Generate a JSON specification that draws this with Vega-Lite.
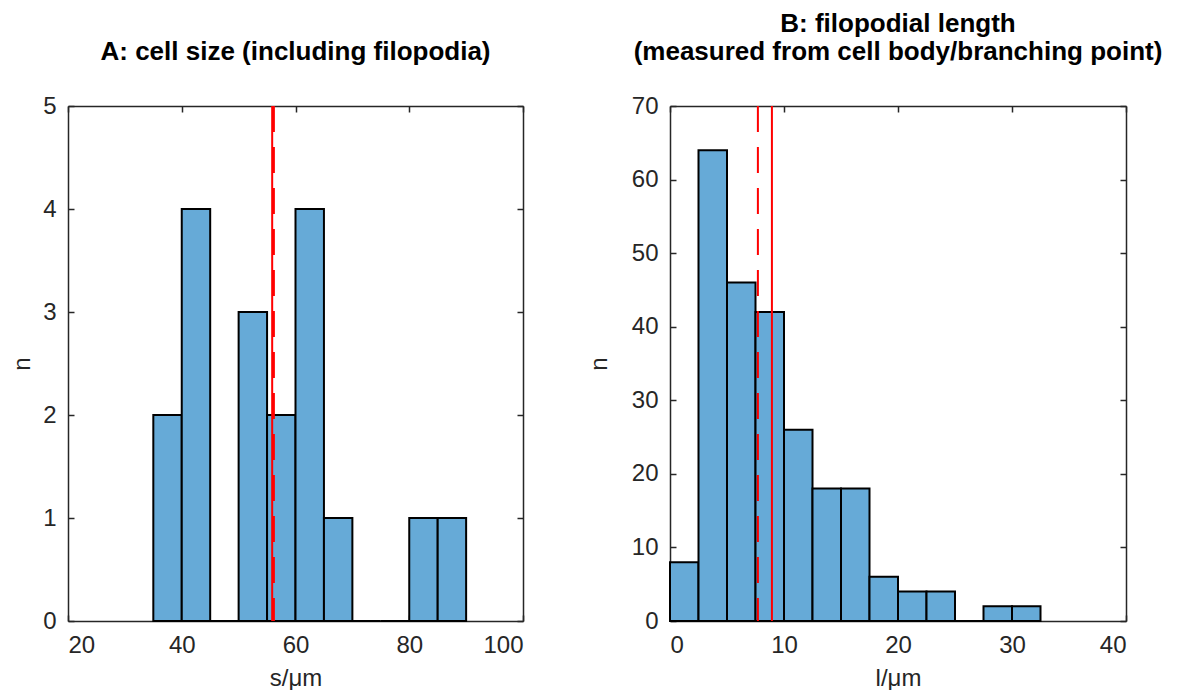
{
  "$schema": "https://vega.github.io/schema/vega-lite/v6.json",
  "background": "white",
  "padding": {"left": 10, "top": 11, "right": 5, "bottom": 0},
  "spacing": 63,
  "datasets": {
    "histA": [
      {"lo": 35, "hi": 40, "n": 2},
      {"lo": 40, "hi": 45, "n": 4},
      {"lo": 45, "hi": 50, "n": 0},
      {"lo": 50, "hi": 55, "n": 3},
      {"lo": 55, "hi": 60, "n": 2},
      {"lo": 60, "hi": 65, "n": 4},
      {"lo": 65, "hi": 70, "n": 1},
      {"lo": 70, "hi": 75, "n": 0},
      {"lo": 75, "hi": 80, "n": 0},
      {"lo": 80, "hi": 85, "n": 1},
      {"lo": 85, "hi": 90, "n": 1}
    ],
    "statsA": [
      {"stat": "mean", "v": 55.9},
      {"stat": "median", "v": 56.2}
    ],
    "histB": [
      {"lo": 0, "hi": 2.5, "n": 8},
      {"lo": 2.5, "hi": 5, "n": 64},
      {"lo": 5, "hi": 7.5, "n": 46},
      {"lo": 7.5, "hi": 10, "n": 42},
      {"lo": 10, "hi": 12.5, "n": 26},
      {"lo": 12.5, "hi": 15, "n": 18},
      {"lo": 15, "hi": 17.5, "n": 18},
      {"lo": 17.5, "hi": 20, "n": 6},
      {"lo": 20, "hi": 22.5, "n": 4},
      {"lo": 22.5, "hi": 25, "n": 4},
      {"lo": 25, "hi": 27.5, "n": 0},
      {"lo": 27.5, "hi": 30, "n": 2},
      {"lo": 30, "hi": 32.5, "n": 2}
    ],
    "statsB": [
      {"stat": "mean", "v": 8.94},
      {"stat": "median", "v": 7.71}
    ]
  },
  "config": {
    "font": "Liberation Sans",
    "view": {"stroke": null},
    "axis": {
      "grid": false,
      "domainColor": "#262626",
      "domainWidth": 1.5,
      "tickColor": "#262626",
      "tickWidth": 1.5,
      "tickSize": -6,
      "labelFont": "Liberation Sans",
      "labelFontSize": 24,
      "labelColor": "#262626",
      "titleFont": "Liberation Sans",
      "titleFontSize": 24,
      "titleFontWeight": "normal",
      "titleColor": "#262626"
    },
    "title": {
      "font": "Liberation Sans",
      "fontSize": 26,
      "fontWeight": "bold",
      "color": "black",
      "anchor": "middle",
      "offset": 29,
      "lineHeight": 28
    }
  },
  "hconcat": [
    {
      "width": 455,
      "height": 515,
      "title": {"text": "A: cell size (including filopodia)"},
      "layer": [
        {
          "data": {"name": "histA"},
          "mark": {"type": "rect", "fill": "#66aad7", "stroke": "black", "strokeWidth": 2},
          "encoding": {
            "x": {"field": "lo", "type": "quantitative",
                  "scale": {"domain": [20, 100], "nice": false, "zero": false},
                  "axis": {"orient": "bottom", "values": [20, 40, 60, 80, 100], "title": "s/μm", "labelPadding": 18, "titleY": 45}},
            "x2": {"field": "hi"},
            "y": {"field": "n", "type": "quantitative",
                  "scale": {"domain": [0, 5], "nice": false},
                  "axis": {"orient": "left", "values": [0, 1, 2, 3, 4, 5], "title": "n", "labelPadding": 18, "titleX": -34}},
            "y2": {"datum": 0}
          }
        },
        {
          "data": {"name": "statsA"},
          "mark": {"type": "rule", "color": "red", "strokeWidth": 2},
          "encoding": {
            "x": {"field": "v", "type": "quantitative",
                  "axis": {"orient": "top", "values": [20, 40, 60, 80, 100], "labels": false, "title": null}},
            "strokeDash": {"field": "stat", "type": "nominal",
                           "scale": {"domain": ["mean", "median"], "range": [[1, 0], [26, 15]]},
                           "legend": null}
          }
        },
        {
          "data": {"name": "histA"},
          "mark": {"type": "tick", "opacity": 0},
          "encoding": {
            "y": {"field": "n", "type": "quantitative",
                  "axis": {"orient": "right", "values": [0, 1, 2, 3, 4, 5], "labels": false, "title": null}}
          }
        }
      ]
    },
    {
      "width": 456,
      "height": 515,
      "title": {"text": ["B: filopodial length", "(measured from cell body/branching point)"]},
      "layer": [
        {
          "data": {"name": "histB"},
          "mark": {"type": "rect", "fill": "#66aad7", "stroke": "black", "strokeWidth": 2},
          "encoding": {
            "x": {"field": "lo", "type": "quantitative",
                  "scale": {"domain": [0, 40], "nice": false},
                  "axis": {"orient": "bottom", "values": [0, 10, 20, 30, 40], "title": "l/μm", "labelPadding": 18, "titleY": 45}},
            "x2": {"field": "hi"},
            "y": {"field": "n", "type": "quantitative",
                  "scale": {"domain": [0, 70], "nice": false},
                  "axis": {"orient": "left", "values": [0, 10, 20, 30, 40, 50, 60, 70], "title": "n", "labelPadding": 18, "titleX": -59}},
            "y2": {"datum": 0}
          }
        },
        {
          "data": {"name": "statsB"},
          "mark": {"type": "rule", "color": "red", "strokeWidth": 2},
          "encoding": {
            "x": {"field": "v", "type": "quantitative",
                  "axis": {"orient": "top", "values": [0, 10, 20, 30, 40], "labels": false, "title": null}},
            "strokeDash": {"field": "stat", "type": "nominal",
                           "scale": {"domain": ["mean", "median"], "range": [[1, 0], [26, 15]]},
                           "legend": null}
          }
        },
        {
          "data": {"name": "histB"},
          "mark": {"type": "tick", "opacity": 0},
          "encoding": {
            "y": {"field": "n", "type": "quantitative",
                  "axis": {"orient": "right", "values": [0, 10, 20, 30, 40, 50, 60, 70], "labels": false, "title": null}}
          }
        }
      ]
    }
  ]
}
